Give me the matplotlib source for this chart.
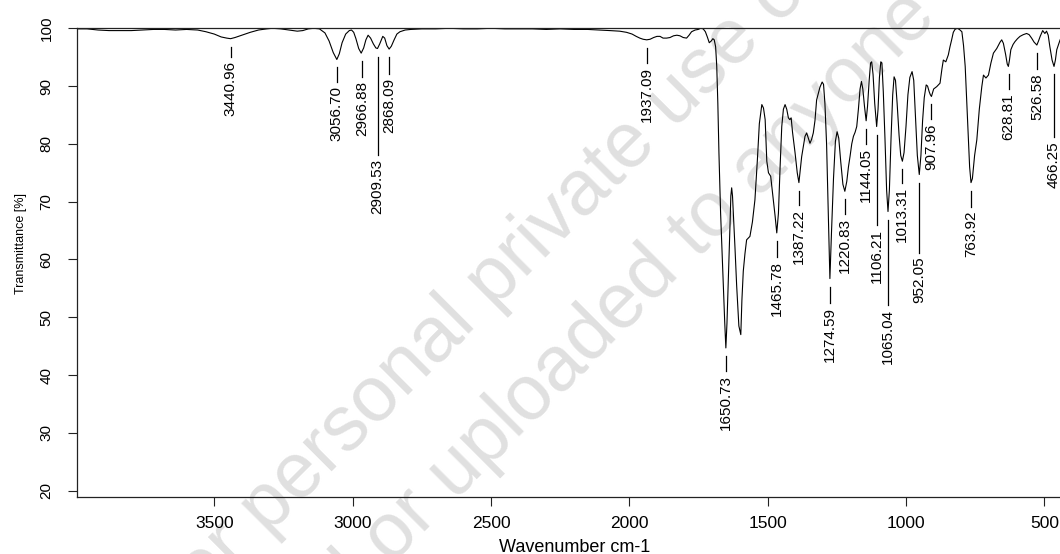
import matplotlib
matplotlib.use("Agg")
import matplotlib.pyplot as plt
from matplotlib import font_manager

# IR spectrum: transmittance [%] against wavenumber [cm-1]
wavenumber = [
    3995, 3960, 3920, 3880, 3840, 3800, 3760, 3720, 3680, 3640, 3600, 3560,
    3530, 3500, 3475, 3455, 3441, 3425, 3400, 3370, 3340, 3310, 3290, 3260,
    3230, 3200, 3180, 3160, 3140, 3120, 3100, 3085, 3070, 3057, 3048, 3038,
    3025, 3012, 3004, 2996, 2988, 2978, 2969, 2960, 2952, 2944, 2935, 2925,
    2916, 2910, 2902, 2891, 2884, 2876, 2868, 2860, 2850, 2840, 2829, 2810,
    2790, 2750, 2700, 2650, 2600, 2550, 2500, 2450, 2400, 2350, 2300, 2250,
    2200, 2150, 2107, 2070, 2035, 2010, 1990, 1975, 1962, 1950, 1937, 1925,
    1912, 1900, 1889, 1878, 1865, 1853, 1840, 1828, 1817, 1805, 1793, 1784,
    1775, 1762, 1751, 1742, 1733, 1725, 1718, 1711, 1704, 1698, 1693, 1688,
    1684, 1680, 1676, 1670, 1661, 1655, 1651, 1647, 1642, 1636, 1633, 1630,
    1627, 1624, 1618, 1612, 1604, 1597, 1593, 1588, 1582, 1576, 1564, 1555,
    1546, 1537, 1530, 1521, 1515, 1509, 1503, 1497, 1489, 1481, 1473, 1467,
    1461, 1455, 1449, 1443, 1437, 1431, 1425, 1420, 1415, 1410, 1401, 1393,
    1387, 1382, 1377, 1371, 1365, 1359, 1353, 1347, 1341, 1335, 1329, 1323,
    1311, 1303, 1298, 1293, 1287, 1281, 1275, 1269, 1262, 1255, 1249, 1243,
    1236, 1228, 1221, 1214, 1208, 1202, 1196, 1190, 1184, 1178, 1172, 1166,
    1161, 1156, 1150, 1144, 1139, 1133, 1128, 1124, 1119, 1113, 1106, 1101,
    1096, 1091, 1087, 1082, 1076, 1070, 1065, 1060, 1054, 1048, 1043, 1038,
    1032, 1025, 1019, 1013, 1007, 1000, 993, 986, 978, 972, 966, 959,
    952, 946, 940, 934, 927, 922, 916, 912, 908, 900, 889, 877,
    870, 865, 856, 847, 841, 835, 829, 823, 815, 807, 798, 792,
    786, 780, 775, 770, 765, 760, 752, 744, 735, 726, 720, 711,
    702, 693, 684, 672, 660, 654, 648, 640, 634, 630, 626, 621,
    613, 606, 597, 588, 576, 564, 555, 546, 537, 527, 521, 515,
    506, 498, 492, 486, 480, 472, 465, 460, 455, 443, 435, 420,
    405,
]
transmittance = [
    99.9, 99.9, 99.7, 99.6, 99.6, 99.6, 99.7, 99.8, 99.8, 99.7, 99.8, 99.7,
    99.4, 99.0, 98.5, 98.3, 98.2, 98.4, 98.8, 99.3, 99.7, 99.9, 100.0, 99.9,
    99.7, 99.5, 99.6, 99.9, 100.0, 99.9, 99.2, 97.8, 95.8, 94.6, 95.6, 97.5,
    99.0, 99.6, 99.7, 99.3, 98.2, 96.5, 95.7, 96.6, 98.0, 98.8, 98.3, 97.3,
    96.6, 96.5, 97.3, 98.6, 98.3, 97.0, 96.4, 96.9, 98.0, 99.0, 99.4, 99.7,
    99.8, 99.9, 99.9, 100.0, 99.9, 99.9, 100.0, 99.9, 99.9, 99.9, 99.8, 99.9,
    99.8, 99.8, 99.7, 99.6, 99.5, 99.3, 99.0, 98.6, 98.3, 98.1, 98.0, 98.1,
    98.4, 98.6, 98.6, 98.3, 98.3, 98.4, 98.7, 98.8, 98.7, 98.4, 98.3, 98.8,
    99.4, 99.7, 99.8, 100.0, 99.9, 99.4, 98.5, 97.5, 97.8, 98.2, 98.0, 96.8,
    93.5, 87.0, 78.4, 68.0, 56.6, 49.0, 44.7, 49.0, 56.6, 66.0, 71.0, 72.4,
    71.0, 68.0, 62.0, 55.5, 48.5, 47.0, 53.0, 58.0, 61.0, 63.4, 64.0, 66.5,
    70.3, 77.3, 83.5, 86.8, 86.2, 84.2, 77.0, 75.0, 74.4, 71.0, 67.5, 64.6,
    68.0, 76.0, 83.0, 86.0, 86.8, 86.0, 84.5, 84.2, 84.5, 82.0, 78.5, 75.0,
    73.3, 75.5, 77.8, 79.5, 81.3, 81.9, 81.0, 80.1, 80.8, 81.9, 84.0, 87.6,
    89.8, 90.7, 90.3, 87.0, 80.0, 68.0, 56.7, 65.0, 74.0, 80.5, 82.1, 81.0,
    77.0, 73.0, 71.8, 73.5, 76.0, 77.9, 80.0, 81.3, 82.0, 83.0, 86.0, 89.5,
    90.8, 89.5, 86.5, 84.0, 86.5, 91.0, 94.0, 94.2, 92.0, 87.0, 83.0, 86.0,
    91.5, 94.2, 94.0, 89.0, 81.0, 72.0, 68.3, 72.0, 81.0, 88.5, 91.6, 91.0,
    87.0, 81.5, 78.0, 77.0, 78.5, 83.0, 88.5, 91.5, 92.5, 91.0, 85.0, 78.0,
    74.7, 78.0, 84.0, 88.0, 90.2, 90.0, 89.0, 88.5, 88.2, 89.5, 89.9, 90.5,
    93.0, 94.5, 94.2, 95.4, 96.8, 98.0, 99.3, 99.8, 100.0, 99.8, 99.4, 97.0,
    93.4, 87.0, 81.9, 76.0, 73.3, 74.0, 78.0, 80.7, 86.0, 89.9, 91.9, 91.4,
    91.9, 94.0, 95.7, 96.5, 97.6, 98.0, 97.4, 95.5, 93.8, 93.4, 94.5, 96.3,
    97.2, 97.7, 98.2, 98.6, 98.9, 99.1, 98.9, 98.3, 97.6, 97.1, 97.8, 98.6,
    99.6, 99.1, 99.5, 98.8, 96.8, 94.5, 93.4, 94.5, 96.3, 98.0, 98.8, 99.2,
    99.5,
]

# picked peaks (position, minimum transmittance)
peak_wn = [3440.96, 3056.70, 2966.88, 2909.53, 2868.09, 1937.09, 1650.73,
           1465.78, 1387.22, 1274.59, 1220.83, 1144.05, 1106.21, 1065.04,
           1013.31, 952.05, 907.96, 763.92, 628.81, 526.58, 466.25]
peak_T = [98.2, 94.6, 95.7, 96.5, 96.4, 98.0, 44.7,
          64.6, 73.3, 56.7, 71.8, 84.0, 83.0, 68.3,
          77.0, 74.7, 88.2, 73.3, 93.4, 97.1, 93.4]
# length of each leader line below its peak, in pixels
leader_px = [10, 15, 16, 98, 17, 15, 15,
             16, 14, 16, 15, 15, 90, 85,
             14, 70, 15, 16, 15, 16, 63]

x_ticks = [3500, 3000, 2500, 2000, 1500, 1000, 500]
y_ticks = [20, 30, 40, 50, 60, 70, 80, 90, 100]

W, H = 1060, 554
ax_l, ax_r, ax_t, ax_b = 77.3, 1072.0, 27.7, 497.3
xlim = (3995, 400)
ylim = (18.86, 100.1)

installed = {f.name for f in font_manager.fontManager.ttflist}
if 'Liberation Sans Narrow' in installed:
    narrow, peak_fs, ylab_fs = 'Liberation Sans Narrow', 13, 10.5
else:
    narrow, peak_fs, ylab_fs = 'Liberation Sans', 11, 9

plt.rcParams['font.family'] = ['Liberation Sans', 'DejaVu Sans']

fig = plt.figure(figsize=(W / 100, H / 100), dpi=100)
ax = fig.add_axes([ax_l / W, 1 - ax_b / H, (ax_r - ax_l) / W, (ax_b - ax_t) / H])
ax.patch.set_alpha(0)

ax.plot(wavenumber, transmittance, color='black', lw=0.8, zorder=2)

ax.set_xlim(*xlim)
ax.set_ylim(*ylim)
ax.set_xticks(x_ticks)
ax.set_yticks(y_ticks)

for side in ['left', 'bottom', 'top']:
    ax.spines[side].set_linewidth(0.9)
    ax.spines[side].set_color('#222222')
ax.spines['right'].set_visible(False)

ax.tick_params(axis='both', direction='out', length=6.5, width=0.8, color='#222222')
ax.tick_params(axis='x', labelsize=12.5, pad=7)
ax.tick_params(axis='y', labelsize=11, pad=10.5, labelrotation=90)
for lab in ax.get_yticklabels():
    lab.set_va('center')

ax.set_xlabel('Wavenumber cm-1', fontsize=13)
ax.xaxis.set_label_coords(0.5, -(539 - ax_b) / (ax_b - ax_t))

ax.set_ylabel('Transmittance [%]', fontsize=ylab_fs, family=narrow)
ax.yaxis.label.set_va('center')
ax.yaxis.set_label_coords((20.8 - ax_l) / (ax_r - ax_l), (ax_b - 244) / (ax_b - ax_t))

# peak labels: short leader line, then the rotated value
du = (ylim[1] - ylim[0]) / (ax_b - ax_t)
for wn, t, drop in zip(peak_wn, peak_T, leader_px):
    y0 = t - 8 * du
    y1 = y0 - drop * du
    ax.plot([wn, wn], [y0, y1], color='black', lw=0.9, zorder=2)
    ax.text(wn, y1 - 4 * du, f'{wn:.2f}', rotation=90, ha='center', va='top',
            fontsize=peak_fs, family=narrow, zorder=3)

# diagonal notice across the plot
wm = dict(fontsize=56, color='#e0e0e0', rotation=45, rotation_mode='anchor',
          transform=fig.transFigure, zorder=0.5, clip_on=False)
ax.text(170 / W, 1 - 634 / H, 'For personal private use only',
        ha='left', va='baseline', **wm)
ax.text(938 / W, 1 - 18 / H, 'copied or uploaded to anyone',
        ha='right', va='baseline', **wm)

fig.savefig('out.png', dpi=100)
